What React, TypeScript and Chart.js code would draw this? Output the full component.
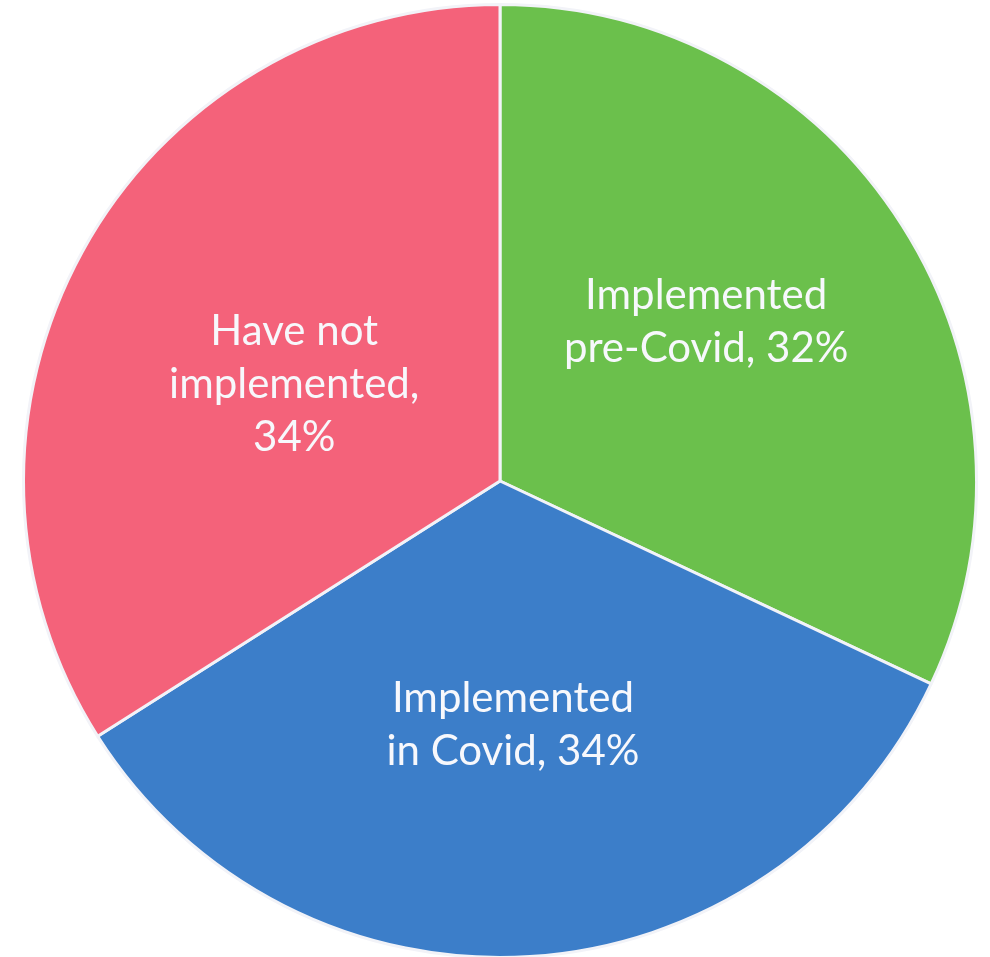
import React, { useEffect, useRef } from "react";
import { Chart, registerables } from "chart.js";

Chart.register(...registerables);

const categories = ["Implemented pre-Covid", "Implemented in Covid", "Have not implemented"];
const values = [32, 34, 34];
const labelLines = [
  ["Implemented", "pre-Covid, 32%"],
  ["Implemented", "in Covid, 34%"],
  ["Have not", "implemented,", "34%"],
];
const colors = ["#6bc04c", "#3c7ec9", "#f4627a"];
// small text nudges relative to the mid-angle anchor point
const labelNudge = [
  [5, -31],
  [-2, 6],
  [3, 18],
];

const labelPlugin = {
  id: "sliceLabels",
  afterDatasetsDraw(chart: any) {
    const ctx = chart.ctx;
    const meta = chart.getDatasetMeta(0);
    ctx.save();
    ctx.fillStyle = "#f7f8fc";
    ctx.font = "42px Lato";
    ctx.textAlign = "center";
    ctx.textBaseline = "middle";
    const lineH = 53;
    meta.data.forEach((arc: any, i: number) => {
      const { x, y, startAngle, endAngle, outerRadius } = arc.getProps(
        ["x", "y", "startAngle", "endAngle", "outerRadius"],
        true
      );
      const mid = (startAngle + endAngle) / 2;
      const r = outerRadius * 0.5;
      const cx = x + Math.cos(mid) * r + labelNudge[i][0];
      const cy = y + Math.sin(mid) * r + labelNudge[i][1];
      const lines = labelLines[i];
      const top = cy - ((lines.length - 1) * lineH) / 2;
      lines.forEach((l, k) => ctx.fillText(l, cx, top + k * lineH));
    });
    ctx.restore();
  },
};

export default function App() {
  const ref = useRef<HTMLCanvasElement>(null);
  useEffect(() => {
    if (!ref.current) return;
    const chart = new Chart(ref.current, {
      type: "pie",
      data: {
        labels: categories,
        datasets: [
          {
            data: values,
            backgroundColor: colors,
            borderColor: "#f2f3f8",
            borderWidth: 3,
          },
        ],
      },
      options: {
        responsive: false,
        animation: false,
        layout: { padding: { left: 0, top: 3, right: 0, bottom: 3 } },
        plugins: { legend: { display: false }, tooltip: { enabled: false } },
      },
      plugins: [labelPlugin],
    });
    return () => chart.destroy();
  }, []);
  return (
    <div
      style={{
        position: "fixed",
        left: 0,
        top: 0,
        width: 990,
        height: 957,
        overflow: "hidden",
        background: "#fff",
      }}
    >
      <canvas ref={ref} width={1000} height={962} />
    </div>
  );
}
